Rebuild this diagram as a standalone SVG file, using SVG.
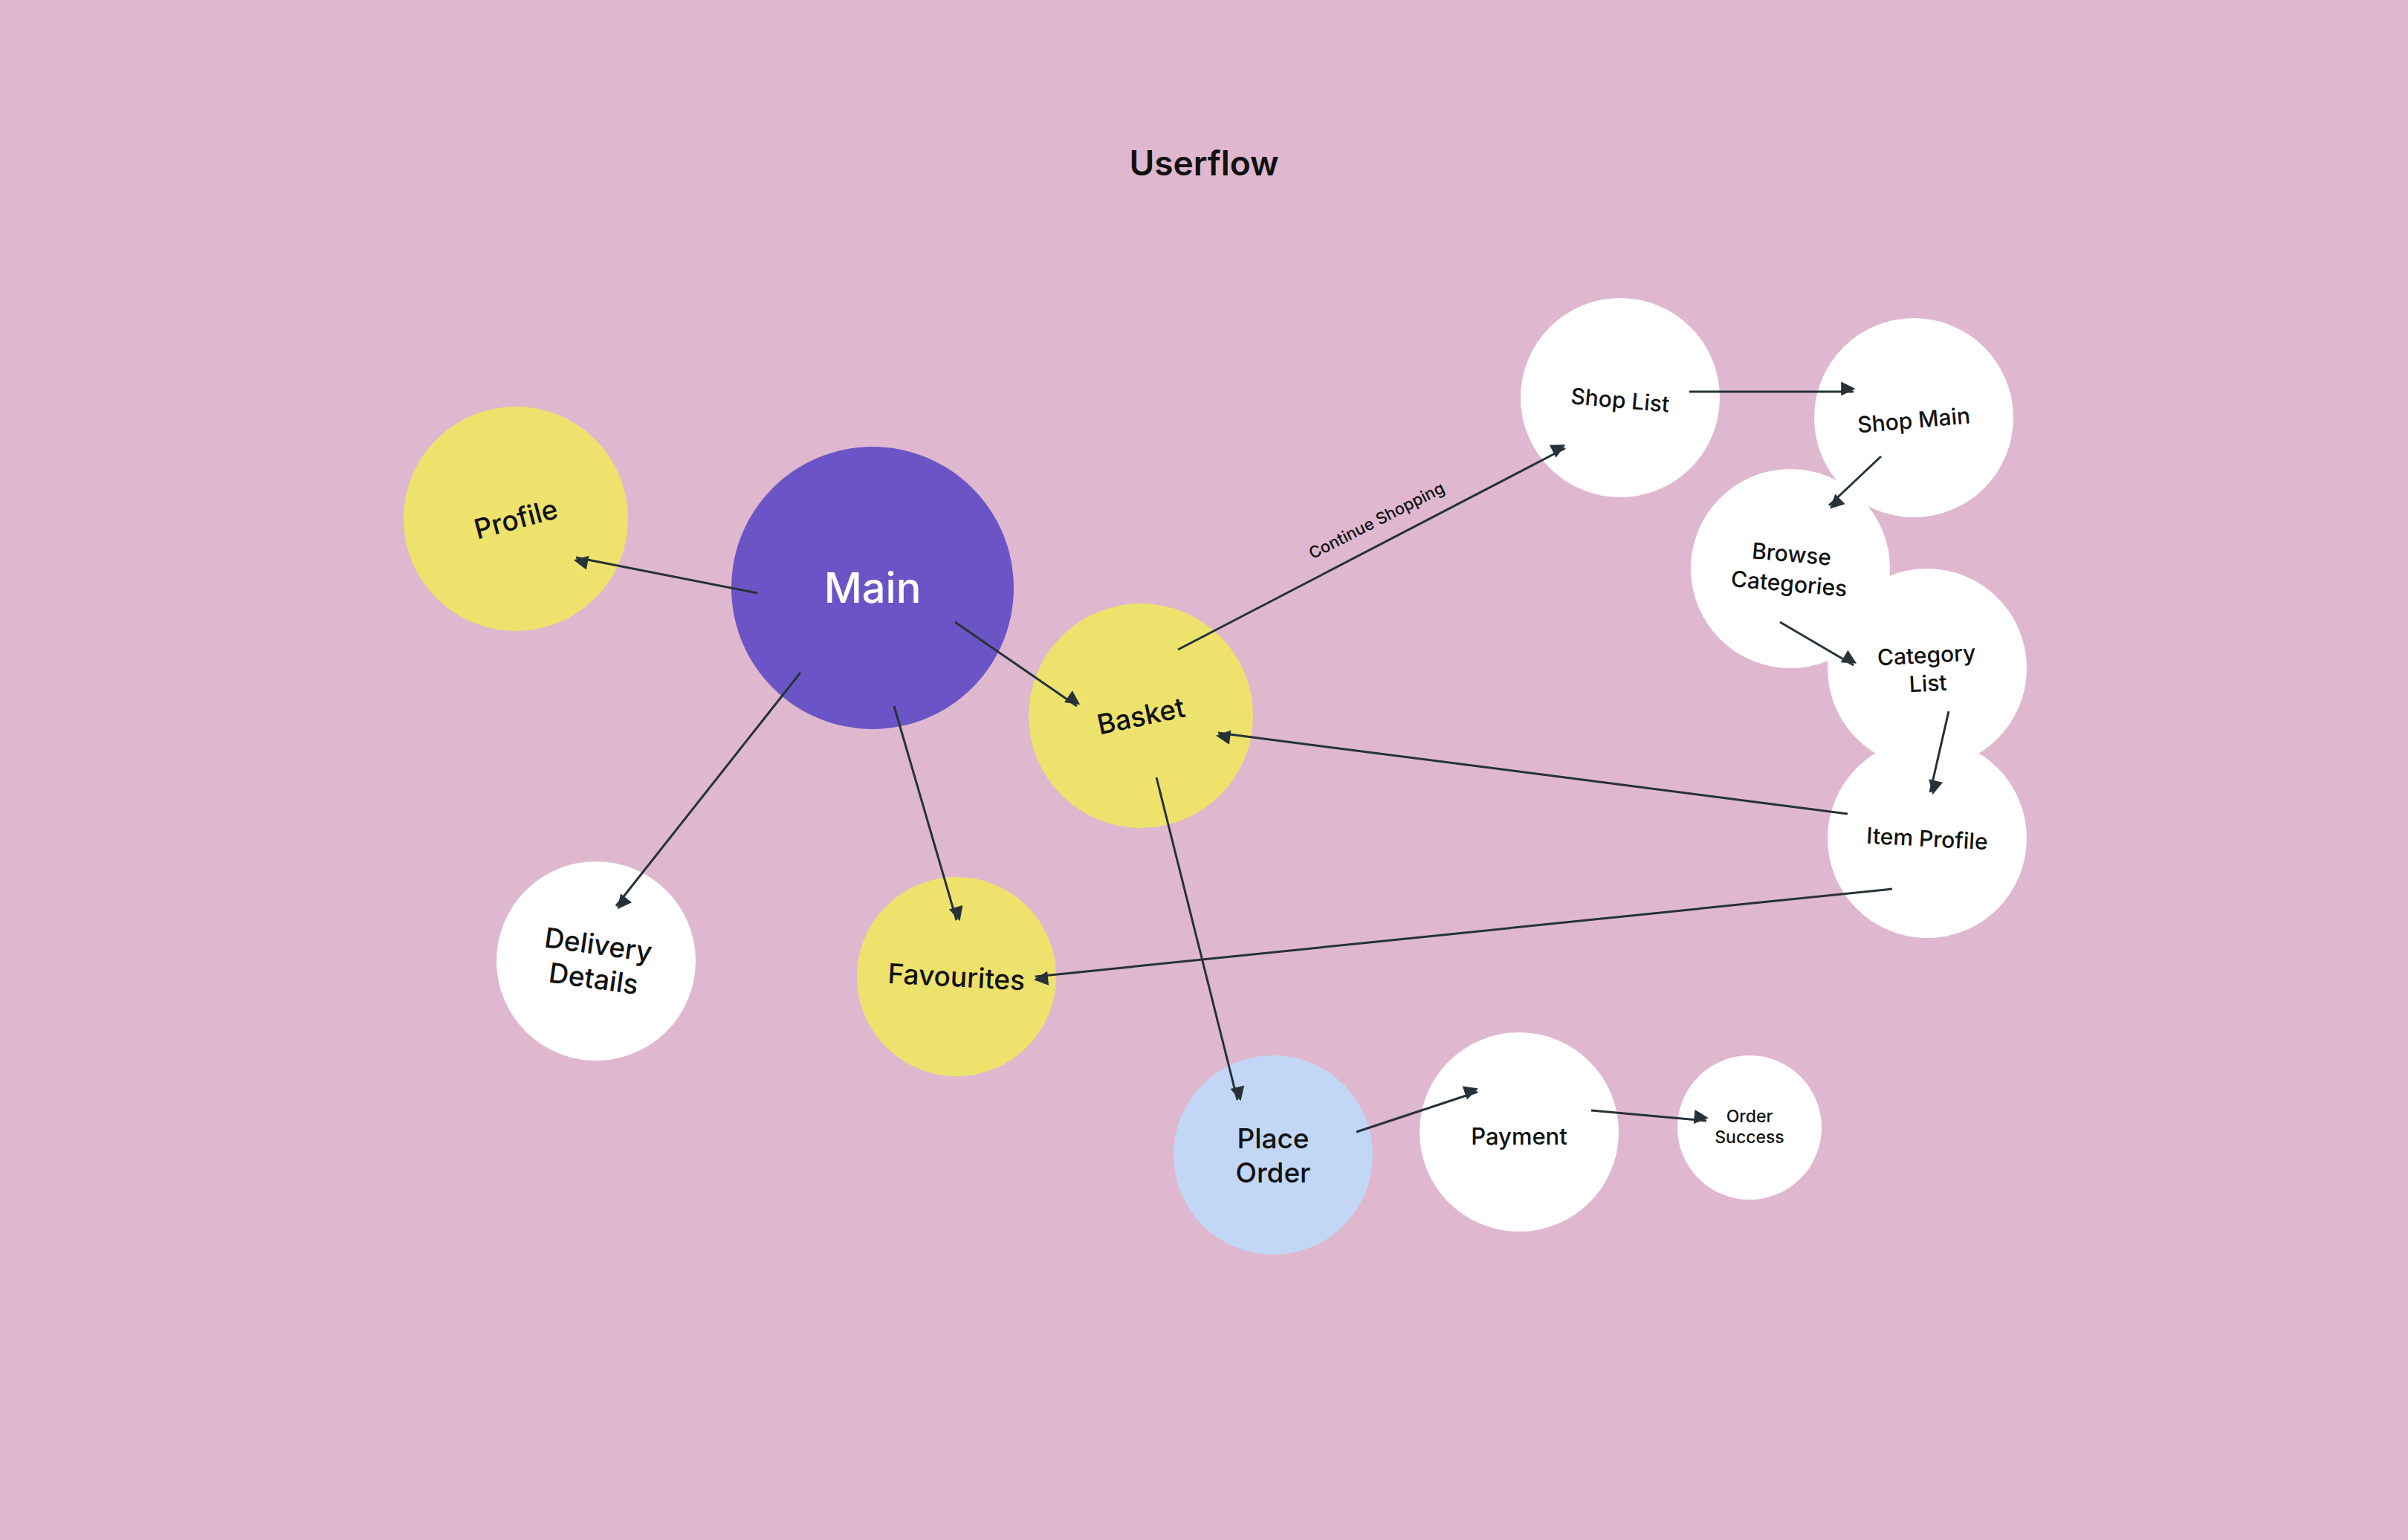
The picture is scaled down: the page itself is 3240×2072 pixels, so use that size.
<svg xmlns="http://www.w3.org/2000/svg" width="3240" height="2072" viewBox="0 0 3240 2072">
<defs>
<marker id="ah" viewBox="0 0 10 10" refX="9" refY="5" markerWidth="8" markerHeight="8" markerUnits="userSpaceOnUse" orient="auto" style="overflow:visible">
<path d="M0,0 L10,5 L0,10 z" fill="#263238" transform="scale(2.4) translate(-6,-5) translate(6,5) translate(-5,-5)"/>
</marker>
</defs>
<style>
text{font-family:Inter,"Noto Sans","Liberation Sans",sans-serif;fill:#111;text-anchor:middle;dominant-baseline:central;font-weight:500}
.w{fill:#fff}.y{fill:#EDE36C}
.c line{stroke:#263238;stroke-width:3;marker-end:url(#ah)}
</style>
<rect width="3240" height="2072" fill="#DFB8CF"/>
<text x="1620" y="219" style="font-size:46px;font-weight:600">Userflow</text>
<g id="profile"><circle cx="694" cy="698" r="151" class="y"/><text x="694" y="698" font-size="37" transform="rotate(-15 694 698)">Profile</text></g>
<g id="main"><circle cx="1174" cy="791" r="190" fill="#6B55C6"/><text x="1174" y="791" font-size="56" style="fill:#fff">Main</text></g>
<g id="basket"><circle cx="1535" cy="963" r="151" class="y"/><text x="1535" y="963" font-size="37" transform="rotate(-12 1535 963)">Basket</text></g>
<g id="delivery"><circle cx="802" cy="1293" r="134" class="w"/><text font-size="37" transform="rotate(8 802 1293)"><tspan x="802" y="1270">Delivery</tspan><tspan x="802" y="1316">Details</tspan></text></g>
<g id="favourites"><circle cx="1287" cy="1314" r="134" class="y"/><text x="1287" y="1314" font-size="37" transform="rotate(3 1287 1314)">Favourites</text></g>
<g id="placeorder"><circle cx="1713" cy="1554" r="134" fill="#C2D7F5"/><text font-size="37"><tspan x="1713" y="1531">Place</tspan><tspan x="1713" y="1577">Order</tspan></text></g>
<g id="payment"><circle cx="2044" cy="1523" r="134" class="w"/><text x="2044" y="1528" font-size="31">Payment</text></g>
<g id="ordersuccess"><circle cx="2354" cy="1517" r="97" class="w"/><text font-size="23"><tspan x="2354" y="1502">Order</tspan><tspan x="2354" y="1530">Success</tspan></text></g>
<g id="shoplist"><circle cx="2180" cy="535" r="134" class="w"/><text x="2180" y="538" font-size="30" transform="rotate(5 2180 538)">Shop List</text></g>
<g id="shopmain"><circle cx="2575" cy="562" r="134" class="w"/><text x="2575" y="565" font-size="30" transform="rotate(-5 2575 565)">Shop Main</text></g>
<g id="browse"><circle cx="2409" cy="765" r="134" class="w"/><text font-size="30" transform="rotate(5 2409 765)"><tspan x="2409" y="745">Browse</tspan><tspan x="2409" y="785">Categories</tspan></text></g>
<g id="categorylist"><circle cx="2593" cy="899" r="134" class="w"/><text font-size="30" transform="rotate(-3 2593 899)"><tspan x="2593" y="881">Category</tspan><tspan x="2593" y="919">List</tspan></text></g>
<g id="itemprofile"><circle cx="2593" cy="1128" r="134" class="w"/><text x="2593" y="1128" font-size="30" transform="rotate(3 2593 1128)">Item Profile</text></g>
<g id="connectors" class="c">
<line x1="1019" y1="798" x2="775" y2="750"/>
<line x1="1285" y1="837" x2="1449" y2="950"/>
<line x1="1077" y1="905" x2="829" y2="1219"/>
<line x1="1203" y1="950" x2="1287" y2="1238"/>
<line x1="1585" y1="874" x2="2106" y2="603"/>
<line x1="2273" y1="527" x2="2494" y2="527"/>
<line x1="2531" y1="614" x2="2461" y2="680"/>
<line x1="2395" y1="837" x2="2494" y2="895"/>
<line x1="2622" y1="957" x2="2597" y2="1066"/>
<line x1="2486" y1="1095" x2="1639" y2="986"/>
<line x1="2546" y1="1196" x2="1393" y2="1314"/>
<line x1="1556" y1="1046" x2="1665" y2="1480"/>
<line x1="1825" y1="1523" x2="1988" y2="1469"/>
<line x1="2141" y1="1494" x2="2296" y2="1508"/>
<text x="1852" y="700" font-size="22" transform="rotate(-27 1852 700)">Continue Shopping</text>
</g>
</svg>
